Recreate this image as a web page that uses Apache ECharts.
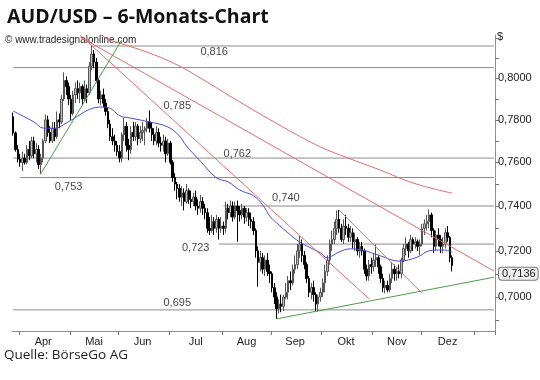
<!DOCTYPE html>
<html><head><meta charset="utf-8">
<script src="https://cdn.jsdelivr.net/npm/echarts/dist/echarts.min.js"></script>
<style>html,body{margin:0;padding:0;background:#fff;}#c{width:540px;height:380px;}</style>
</head><body><div id="c"></div>
<script>
// ---- categories: trading days (weekdays) ----
const firstDay = '2015-03-27';
const lastDay = '2016-01-13';
const monthNames = ['Jan','Feb','Mär','Apr','Mai','Jun','Jul','Aug','Sep','Okt','Nov','Dez'];
// y-axis tick labels and minor ticks
const yTickLabels = [0.70, 0.72, 0.74, 0.76, 0.78, 0.80];
const yTicks = [0.69, 0.70, 0.71, 0.72, 0.73, 0.74, 0.75, 0.76, 0.77, 0.78, 0.79, 0.80, 0.81, 0.82];
const lastClose = 0.7136;

// daily candles [open, high, low, close]
const candles = [
[0.7815,0.7835,0.7725,0.7738],[0.7738,0.7745,0.7650,0.7660],[0.7660,0.7680,0.7600,0.7615],[0.7615,0.7640,0.7580,0.7600],
[0.7600,0.7650,0.7560,0.7620],[0.7620,0.7640,0.7590,0.7600],[0.7600,0.7680,0.7590,0.7660],[0.7660,0.7700,0.7610,0.7630],
[0.7630,0.7720,0.7620,0.7700],[0.7700,0.7720,0.7620,0.7640],[0.7640,0.7690,0.7600,0.7660],[0.7660,0.7680,0.7570,0.7590],
[0.7590,0.7640,0.7545,0.7620],[0.7620,0.7710,0.7600,0.7700],[0.7700,0.7825,0.7690,0.7800],[0.7800,0.7820,0.7720,0.7740],
[0.7740,0.7770,0.7690,0.7700],[0.7700,0.7790,0.7690,0.7760],[0.7760,0.7790,0.7700,0.7720],[0.7720,0.7840,0.7710,0.7800],
[0.7800,0.7830,0.7760,0.7790],[0.7790,0.7920,0.7780,0.7900],[0.7900,0.8030,0.7890,0.7990],[0.7990,0.8010,0.7920,0.7960],
[0.7960,0.7980,0.7870,0.7900],[0.7900,0.7920,0.7800,0.7830],[0.7830,0.7940,0.7820,0.7920],[0.7920,0.7980,0.7880,0.7950],
[0.7950,0.7990,0.7900,0.7930],[0.7930,0.7980,0.7880,0.7960],[0.7960,0.7970,0.7870,0.7900],[0.7900,0.7990,0.7890,0.7950],
[0.7950,0.7970,0.7880,0.7930],[0.7930,0.8080,0.7920,0.8060],[0.8060,0.8163,0.8040,0.8120],[0.8120,0.8140,0.8050,0.8080],
[0.8080,0.8100,0.7980,0.7990],[0.7990,0.8000,0.7880,0.7900],[0.7900,0.7940,0.7870,0.7920],[0.7920,0.7950,0.7860,0.7880],
[0.7880,0.7900,0.7820,0.7840],[0.7840,0.7860,0.7760,0.7780],[0.7780,0.7800,0.7700,0.7720],[0.7720,0.7760,0.7680,0.7700],
[0.7700,0.7730,0.7650,0.7680],[0.7680,0.7700,0.7630,0.7650],[0.7650,0.7680,0.7600,0.7620],[0.7620,0.7740,0.7600,0.7730],
[0.7730,0.7810,0.7700,0.7770],[0.7770,0.7790,0.7650,0.7680],[0.7680,0.7710,0.7610,0.7660],[0.7660,0.7770,0.7640,0.7740],
[0.7740,0.7790,0.7700,0.7720],[0.7720,0.7790,0.7700,0.7770],[0.7770,0.7780,0.7680,0.7710],[0.7710,0.7770,0.7690,0.7740],
[0.7740,0.7790,0.7700,0.7750],[0.7750,0.7770,0.7680,0.7760],[0.7760,0.7810,0.7740,0.7790],[0.7790,0.7845,0.7740,0.7760],
[0.7760,0.7790,0.7700,0.7730],[0.7730,0.7760,0.7680,0.7700],[0.7700,0.7770,0.7680,0.7740],[0.7740,0.7760,0.7670,0.7690],
[0.7690,0.7720,0.7650,0.7680],[0.7680,0.7730,0.7650,0.7700],[0.7700,0.7720,0.7600,0.7640],[0.7640,0.7710,0.7630,0.7690],
[0.7690,0.7700,0.7590,0.7600],[0.7600,0.7610,0.7510,0.7530],[0.7530,0.7550,0.7470,0.7500],[0.7500,0.7510,0.7430,0.7480],
[0.7480,0.7500,0.7420,0.7440],[0.7440,0.7490,0.7400,0.7460],[0.7460,0.7480,0.7380,0.7420],[0.7420,0.7500,0.7410,0.7470],
[0.7470,0.7480,0.7410,0.7430],[0.7430,0.7470,0.7390,0.7420],[0.7420,0.7460,0.7400,0.7440],[0.7440,0.7470,0.7380,0.7400],
[0.7400,0.7430,0.7360,0.7390],[0.7390,0.7450,0.7370,0.7420],[0.7420,0.7440,0.7360,0.7390],[0.7390,0.7410,0.7340,0.7370],
[0.7370,0.7390,0.7280,0.7300],[0.7300,0.7350,0.7270,0.7290],[0.7290,0.7360,0.7280,0.7330],[0.7330,0.7350,0.7270,0.7300],
[0.7300,0.7360,0.7280,0.7340],[0.7340,0.7350,0.7250,0.7300],[0.7300,0.7350,0.7280,0.7310],[0.7310,0.7330,0.7270,0.7300],
[0.7300,0.7420,0.7280,0.7390],[0.7390,0.7410,0.7340,0.7370],[0.7370,0.7425,0.7350,0.7400],[0.7400,0.7420,0.7330,0.7350],
[0.7350,0.7420,0.7340,0.7400],[0.7400,0.7425,0.7240,0.7380],[0.7380,0.7400,0.7330,0.7360],[0.7360,0.7410,0.7340,0.7390],
[0.7390,0.7400,0.7320,0.7350],[0.7350,0.7390,0.7330,0.7370],[0.7370,0.7390,0.7310,0.7340],[0.7340,0.7370,0.7300,0.7330],
[0.7330,0.7350,0.7270,0.7290],[0.7290,0.7300,0.7170,0.7200],[0.7200,0.7220,0.7044,0.7150],[0.7150,0.7200,0.7110,0.7170],
[0.7170,0.7190,0.7100,0.7120],[0.7120,0.7180,0.7090,0.7160],[0.7160,0.7190,0.7090,0.7110],[0.7110,0.7140,0.7060,0.7100],
[0.7100,0.7110,0.7020,0.7040],[0.7040,0.7060,0.6970,0.7000],[0.7000,0.7020,0.6907,0.6950],[0.6950,0.6990,0.6930,0.6970],
[0.6970,0.7010,0.6935,0.6960],[0.6960,0.7010,0.6940,0.7000],[0.7000,0.7060,0.6990,0.7020],[0.7020,0.7090,0.6990,0.7070],
[0.7070,0.7110,0.7030,0.7060],[0.7060,0.7140,0.7050,0.7120],[0.7120,0.7180,0.7100,0.7140],[0.7140,0.7230,0.7120,0.7200],
[0.7200,0.7267,0.7170,0.7230],[0.7230,0.7250,0.7150,0.7180],[0.7180,0.7200,0.7120,0.7140],[0.7140,0.7150,0.7060,0.7080],
[0.7080,0.7090,0.7000,0.7020],[0.7020,0.7060,0.6990,0.7040],[0.7040,0.7070,0.6980,0.7010],[0.7010,0.7020,0.6940,0.6970],
[0.6970,0.7010,0.6937,0.7000],[0.7000,0.7040,0.6980,0.7020],[0.7020,0.7080,0.7000,0.7060],[0.7060,0.7140,0.7020,0.7110],
[0.7110,0.7180,0.7090,0.7160],[0.7160,0.7250,0.7140,0.7230],[0.7230,0.7290,0.7200,0.7250],[0.7250,0.7330,0.7230,0.7300],
[0.7300,0.7380,0.7270,0.7340],[0.7340,0.7382,0.7280,0.7300],[0.7300,0.7320,0.7240,0.7250],[0.7250,0.7340,0.7230,0.7310],
[0.7310,0.7360,0.7270,0.7300],[0.7300,0.7320,0.7240,0.7260],[0.7260,0.7310,0.7240,0.7280],[0.7280,0.7300,0.7210,0.7240],
[0.7240,0.7280,0.7200,0.7250],[0.7250,0.7260,0.7180,0.7200],[0.7200,0.7240,0.7170,0.7220],[0.7220,0.7240,0.7180,0.7200],
[0.7200,0.7210,0.7100,0.7120],[0.7120,0.7140,0.7070,0.7090],[0.7090,0.7160,0.7070,0.7140],[0.7140,0.7170,0.7100,0.7130],
[0.7130,0.7190,0.7110,0.7160],[0.7160,0.7228,0.7130,0.7170],[0.7170,0.7180,0.7100,0.7130],[0.7130,0.7140,0.7060,0.7080],
[0.7080,0.7100,0.7020,0.7040],[0.7040,0.7070,0.7016,0.7050],[0.7050,0.7070,0.7020,0.7030],[0.7030,0.7100,0.7020,0.7080],
[0.7080,0.7150,0.7060,0.7120],[0.7120,0.7140,0.7070,0.7100],[0.7100,0.7130,0.7070,0.7110],[0.7110,0.7140,0.7080,0.7100],
[0.7100,0.7170,0.7080,0.7160],[0.7160,0.7230,0.7150,0.7210],[0.7210,0.7260,0.7180,0.7230],[0.7230,0.7240,0.7170,0.7200],
[0.7200,0.7270,0.7190,0.7250],[0.7250,0.7260,0.7200,0.7230],[0.7230,0.7260,0.7210,0.7240],[0.7240,0.7250,0.7200,0.7220],
[0.7220,0.7250,0.7180,0.7230],[0.7230,0.7320,0.7220,0.7300],[0.7300,0.7340,0.7270,0.7320],[0.7320,0.7360,0.7290,0.7330],
[0.7330,0.7385,0.7300,0.7360],[0.7360,0.7370,0.7260,0.7290],[0.7290,0.7300,0.7190,0.7220],[0.7220,0.7290,0.7200,0.7270],
[0.7270,0.7300,0.7220,0.7250],[0.7250,0.7270,0.7190,0.7220],[0.7220,0.7260,0.7190,0.7230],[0.7230,0.7300,0.7210,0.7280],
[0.7280,0.7310,0.7240,0.7260],[0.7260,0.7265,0.7150,0.7170],[0.7170,0.7180,0.7110,0.7136]
];

// moving average (blue), read at selected candle indices
const maIdx = [0,9,13,18,23,28,33,38,42,46,51,59,67,72,75,81,88,93,98,104,108,111,114,119,124,128,133,136,138,141,146,151,159,167,175,180,186,190];
const maVal = [0.7842,0.7790,0.7761,0.7760,0.7785,0.7818,0.7850,0.7861,0.7855,0.7820,0.7808,0.7790,0.7766,0.7723,0.7676,0.7606,0.7528,0.7510,0.7473,0.7446,0.7405,0.7355,0.7324,0.7279,0.7239,0.7217,0.7191,0.7169,0.7178,0.7195,0.7209,0.7204,0.7178,0.7155,0.7173,0.7200,0.7204,0.7195];
// long moving average (red curve)
const ma2Idx = [34,40,46,59,71,81,98,119,133,145,159,173,190];
const ma2Val = [0.8260,0.8200,0.8175,0.8125,0.8066,0.8002,0.7886,0.7752,0.7672,0.7620,0.7564,0.7505,0.7458];

// trend lines: [[startIdx, startPrice],[endIdx, endPrice]]
const redTrends = [
  [[29, 0.8215], [154, 0.6992]],
  [[29, 0.8205], [208, 0.7112]],
  [[141, 0.7382], [177, 0.7015]]
];
const greenTrends = [
  [[12, 0.7548], [47, 0.8190]],
  [[114, 0.6907], [208, 0.7085]]
];
// horizontal levels: value, first index, last index
const levelVal  = [0.816, 0.8053, 0.762, 0.753, 0.740, 0.723, 0.6945];
const levelFrom = [34, 0, 0, 3, 91, 89, 0];
const levelTo   = [208, 208, 208, 208, 208, 208, 208];
// level annotation texts with anchor [index, price]
const levelText = ['0,816', '0,785', '0,762', '0,753', '0,740', '0,723', '0,695'];
const levelTextAt = [[87, 0.8130], [71, 0.7866], [97, 0.7641], [24, 0.7486], [118, 0.7435], [79, 0.7213], [71, 0.6975]];

// ---------- build ----------
function weekdays(a, b) {
  const out = []; const d = new Date(a + 'T00:00:00Z'); const e = new Date(b + 'T00:00:00Z');
  while (d <= e) { const w = d.getUTCDay(); if (w !== 0 && w !== 6) out.push(d.toISOString().slice(0, 10)); d.setUTCDate(d.getUTCDate() + 1); }
  return out;
}
const categories = weekdays(firstDay, lastDay);
const monthOf = s => s.slice(0, 7);
const tickSet = new Set(); const labelSet = new Set();
{
  const groups = {};
  categories.forEach((c, i) => { (groups[monthOf(c)] = groups[monthOf(c)] || []).push(i); if (i > 0 && monthOf(c) !== monthOf(categories[i-1])) tickSet.add(i); });
  Object.values(groups).forEach(g => { if (g.length >= 15 && g[0] < candles.length) labelSet.add(g[Math.floor((g.length - 1) / 2)]); });
}

const RED = '#e56b6b', GREEN = '#4a9e4a', BLUE = '#4b4bd6', GRAY = '#8a8a8a';
const series = [];
levelVal.forEach((v, k) => series.push({ type: 'line', silent: true, symbol: 'none', z: 1, animation: false,
  lineStyle: { color: GRAY, width: 1 }, data: [[levelFrom[k], v], [levelTo[k], v]] }));
series.push({ type: 'candlestick', z: 3, barWidth: 2,
  itemStyle: { color: '#bdbdbd', color0: '#000', borderColor: '#555', borderColor0: '#000', borderWidth: 1 },
  data: candles.map(r => [r[0], r[3], r[2], r[1]]),
  markLine: { symbol: 'none', silent: true, animation: false, lineStyle: { color: 'transparent', width: 0 },
    label: { show: true, position: 'end', distance: 4, formatter: lastClose.toFixed(4).replace('.', ','),
      fontFamily: 'Liberation Sans', fontSize: 11, color: '#222', backgroundColor: '#eeeeee',
      borderColor: '#777', borderWidth: 1, borderRadius: 3, padding: [1, 2, 0, 3] },
    data: [{ yAxis: lastClose }] } });
series.push({ type: 'line', symbol: 'none', smooth: 0.4, z: 4, silent: true, lineStyle: { color: BLUE, width: 1 },
  data: maIdx.map((x, k) => [x, maVal[k]]) });
series.push({ type: 'line', symbol: 'none', smooth: 0.4, z: 4, silent: true, lineStyle: { color: RED, width: 1 },
  data: ma2Idx.map((x, k) => [x, ma2Val[k]]) });
redTrends.forEach(t => series.push({ type: 'line', symbol: 'none', z: 5, silent: true, lineStyle: { color: RED, width: 1 }, data: t }));
greenTrends.forEach(t => series.push({ type: 'line', symbol: 'none', z: 5, silent: true, lineStyle: { color: GREEN, width: 1 }, data: t }));
series.push({ type: 'scatter', symbolSize: 0, z: 6, silent: true,
  label: { show: true, position: 'inside', formatter: p => levelText[p.dataIndex], fontFamily: 'Liberation Sans', fontSize: 11, color: '#111' },
  data: levelTextAt });

const chart = echarts.init(document.getElementById('c'), null, { renderer: 'canvas' });
chart.setOption({
  animation: false,
  backgroundColor: '#fff',
  title: { text: 'AUD/USD – 6-Monats-Chart', left: 2, top: 2,
    textStyle: { fontFamily: 'Open Sans', fontWeight: 'bold', fontSize: 19.5, color: '#111' } },
  graphic: [
    { type: 'text', left: 5, top: 35, style: { text: '© www.tradesignalonline.com', font: '10px "Liberation Sans"', fill: '#222' } },
    { type: 'text', left: 4, top: 348, style: { text: 'Quelle: BörseGo AG', font: '13.5px "Open Sans"', fill: '#222' } },
    { type: 'text', left: 497, top: 31, style: { text: '$', font: '11px "Liberation Sans"', fill: '#222' } }
  ],
  grid: { left: 12, right: 45, top: 35, bottom: 49 },
  xAxis: { type: 'category', data: categories, boundaryGap: true,
    axisLine: { lineStyle: { color: RED, width: 1 } },
    axisTick: { show: true, length: 4, interval: (i) => tickSet.has(i), lineStyle: { color: '#777' } },
    axisLabel: { interval: (i) => labelSet.has(i), formatter: v => monthNames[+v.slice(5, 7) - 1],
      fontFamily: 'Liberation Sans', fontSize: 11, color: '#222', margin: 5 },
    splitLine: { show: false } },
  yAxis: { type: 'log', logBase: 10, position: 'right', min: 0.6856, max: 0.8215, scale: true,
    axisLine: { show: true, lineStyle: { color: RED, width: 1 } },
    axisTick: { show: true, length: 4, customValues: yTicks, lineStyle: { color: '#777' } },
    axisLabel: { customValues: yTickLabels, formatter: v => (+v).toFixed(4).replace('.', ','),
      fontFamily: 'Liberation Sans', fontSize: 11, color: '#222', margin: 3 },
    splitLine: { show: false } },
  series: series
});
</script></body></html>
